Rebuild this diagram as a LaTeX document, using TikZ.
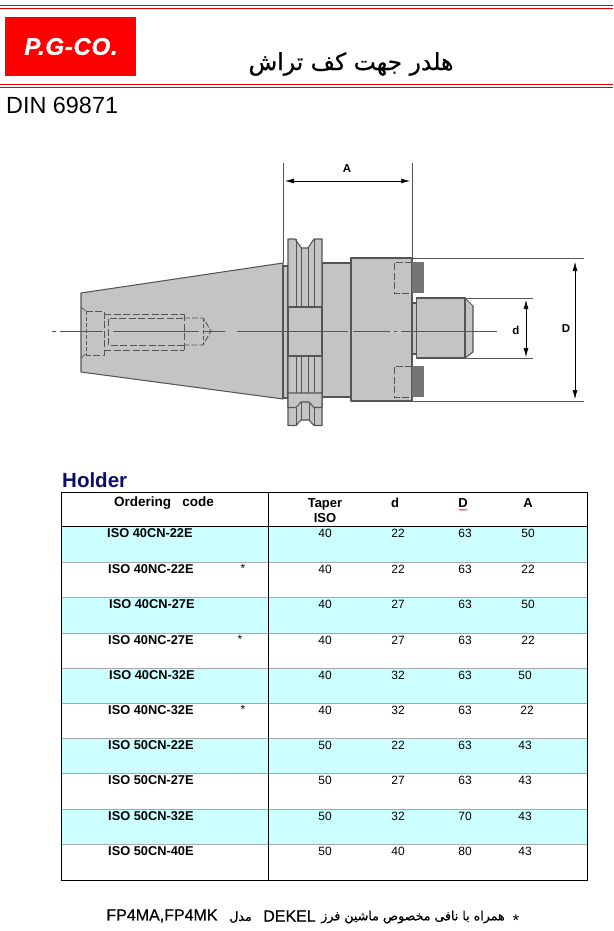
\documentclass[tikz,border=0pt]{standalone}
\usepackage{fontspec}
\usetikzlibrary{arrows.meta}
\setmainfont{Liberation Sans}
\newfontfamily\arabictitle[Script=Arabic,FakeBold=0.6]{DejaVu Sans}
\newfontfamily\arabicnote[Script=Arabic,FakeBold=0.5]{DejaVu Sans}
\newfontfamily\logofont[LetterSpace=3,BoldItalicFont={Liberation Sans Bold Italic},BoldItalicFeatures={FakeBold=1}]{Liberation Sans}
\newfontfamily\notelatin[FakeBold=0.3]{Liberation Sans}
\TeXXeTstate=1
\definecolor{bodygray}{HTML}{C4C4C4}
\definecolor{keygray}{HTML}{747474}
\definecolor{edgegray}{HTML}{555555}
\definecolor{rowcyan}{HTML}{CCFFFF}
\definecolor{rulegray}{HTML}{A8A8A8}
\definecolor{holderblue}{HTML}{0B0B70}
\definecolor{logored}{HTML}{FF0000}
\tikzset{
  part/.style={fill=bodygray,draw=edgegray,line width=1.05pt,line join=round},
  keyblock/.style={fill=keygray,draw=none},
  edge/.style={draw=edgegray,line width=1pt},
  hidden/.style={draw=edgegray,line width=0.9pt,dash pattern=on 7pt off 2.5pt},
  axis/.style={draw=edgegray,line width=0.8pt},
  extline/.style={draw=edgegray,line width=0.9pt},
  dimline/.style={draw=black,line width=0.6pt,{Latex[length=9pt,width=5pt]}-{Latex[length=9pt,width=5pt]}},
  dimlabel/.style={font=\fontsize{11.5}{13}\selectfont\bfseries,inner sep=0pt},
  redrule/.style={draw=logored!90!black,line width=1pt},
  hdr/.style={font=\fontsize{13}{14}\selectfont\bfseries,inner sep=0pt,text=black},
  code/.style={font=\fontsize{12.8}{14}\selectfont\bfseries,inner sep=0pt,anchor=west},
  val/.style={font=\fontsize{12}{13}\selectfont,inner sep=0pt},
  star/.style={font=\fontsize{12}{14}\selectfont,inner sep=0pt},
}
\begin{document}
\begin{tikzpicture}[x=1pt,y=-1pt]
\useasboundingbox (0,0) rectangle (613,931);
% header
\draw[redrule] (0,5.7) -- (613,5.7) (0,8.5) -- (613,8.5) (0,84.5) -- (613,84.5) (0,87.5) -- (613,87.5);
\node[fill=logored,minimum width=131pt,minimum height=59pt,inner sep=0pt] (logo) at (70.5,46.5) {};
\node[text=white,inner sep=0pt,font=\logofont\fontsize{24}{26}\selectfont\bfseries\itshape] (logotext) at (71,46.5) {P.G-CO.};
\node[inner sep=0pt,font=\arabictitle\fontsize{23.5}{26}\selectfont] (title) at (351,64) {\beginR هلدر جهت کف تراش\endR};
\node[inner sep=0pt,anchor=west,font=\fontsize{23.4}{26}\selectfont] (din) at (6,105) {DIN 69871};

% drawing: fills
\draw[part] (81,293) -- (283,263) -- (283,399) -- (81,372) -- cycle;
\draw[part] (283,266) rectangle (288,398);
\draw[part] (322,263) rectangle (351,397);
\draw[part] (288,239) -- (295,239) -- (301.5,248) -- (308,248) -- (314,239) -- (322,239) -- (322,425.5) -- (314,425.5) -- (309,420) -- (301,420) -- (296,425.5) -- (288,425.5) -- cycle;
\draw[part] (288,307) rectangle (322,356);
\draw[part] (288,393) -- (322,393) -- (322,407.5) -- (314,407.5) -- (309,402) -- (301,402) -- (296,407.5) -- (288,407.5) -- cycle;
\draw[edge] (296,239) -- (296,307) (301.5,248) -- (301.5,307) (308,248) -- (308,307) (314,240) -- (314,307);
\draw[edge] (296,356) -- (296,393) (301.5,356) -- (301.5,393) (308,356) -- (308,393) (314,356) -- (314,393);
\draw[edge] (296,407.5) -- (296,425.5) (301,402) -- (301,420) (309,402) -- (309,420) (314,407.5) -- (314,425.5);
\draw[part] (351,258) rectangle (412,401);
\node[keyblock,minimum width=12pt,minimum height=31pt,inner sep=0pt] (keytop) at (418,277.5) {};
\node[keyblock,minimum width=12pt,minimum height=31pt,inner sep=0pt] (keybot) at (418,381.5) {};
\draw[hidden] (412,262) -- (394,262) -- (394,293) -- (412,293);
\draw[hidden] (412,366) -- (394,366) -- (394,397) -- (412,397);
\draw[part] (412,303) rectangle (416.5,354);
\draw[part] (465,298) -- (473,306) -- (473,352) -- (465,358) -- cycle;
\draw[part] (416.5,298) rectangle (465,358);

% hidden detail in the taper
\draw[edge,line width=0.7pt] (81,307) -- (85.5,311) (81,358) -- (85.5,354);
\draw[hidden] (85.5,311) -- (104,311) -- (104,355) -- (85.5,355);
\draw[hidden,dash pattern=on 4pt off 2pt] (86,311) -- (86,355);
\draw[hidden] (104,314) -- (184,314) (104,350) -- (184,350) (184,314) -- (184,350);
\draw[hidden] (184,345) -- (108,345) -- (108,318) -- (184,318);
\draw[hidden,dash pattern=on 6pt off 2pt] (184,318) -- (203,318) -- (211,331) -- (203,345) -- (184,345);
\draw[hidden,dash pattern=on 4pt off 2pt] (203,318) -- (203,345);

% axis
\draw[axis] (52,331) -- (56,331) (60,331) -- (103,331) (113,331) -- (199,331) (203,331) -- (225,331)
  (237,331) -- (348,331) (353,331) -- (390,331) (394,331) -- (397,331) (401,331) -- (497,331);

% dimensions
\coordinate (aL) at (283,163); \coordinate (aLb) at (283,263);
\coordinate (aR) at (412,163); \coordinate (aRb) at (412,258);
\coordinate (dT1) at (412,258); \coordinate (dT2) at (584,258);
\coordinate (dB1) at (412,401); \coordinate (dB2) at (584,401);
\coordinate (sT1) at (465,298); \coordinate (sT2) at (533,298);
\coordinate (sB1) at (465,358); \coordinate (sB2) at (533,358);
\draw[extline] (aL) -- (aLb); \draw[extline] (aR) -- (aRb);
\draw[extline] (dT1) -- (dT2); \draw[extline] (dB1) -- (dB2);
\draw[extline] (sT1) -- (sT2); \draw[extline] (sB1) -- (sB2);
\coordinate (A1) at (285,181); \coordinate (A2) at (410,181);
\coordinate (D1) at (575,262); \coordinate (D2) at (575,399);
\coordinate (d1) at (526,300); \coordinate (d2) at (526,357);
\draw[dimline] (A1) -- (A2); \draw[dimline] (D1) -- (D2); \draw[dimline] (d1) -- (d2);
\node[dimlabel] (lblA) at (347,169) {A};
\node[dimlabel] (lblD) at (566,329) {D};
\node[dimlabel] (lbld) at (516,330) {d};

% table
\node[inner sep=0pt,anchor=west,text=holderblue,font=\fontsize{20.5}{22}\selectfont\bfseries] (holder) at (62,480) {Holder};
\fill[rowcyan] (61.5,526.3) rectangle (587.7,562.3);
\fill[rowcyan] (61.5,597.3) rectangle (587.7,633);
\fill[rowcyan] (61.5,668) rectangle (587.7,703);
\fill[rowcyan] (61.5,738) rectangle (587.7,773);
\fill[rowcyan] (61.5,809) rectangle (587.7,844);
\foreach \yy in {562.3,597.3,633,668,703,738,773,809,844}
  \draw[rulegray,line width=0.8pt] (61.5,\yy) -- (587.7,\yy);
\draw[black,line width=0.9pt] (61.5,526.3) -- (587.7,526.3);
\draw[black,line width=0.9pt] (268.3,492.7) -- (268.3,880);
\draw[black,line width=0.9pt] (61.5,492.7) rectangle (587.7,880);
\node[hdr,font=\fontsize{13.5}{15}\selectfont\bfseries] (hOrder) at (164,503) {Ordering\ \ \ code};
\node[hdr] (hTaper) at (325,504) {Taper};
\node[hdr] (hIso) at (325,518) {ISO};
\node[hdr] (hd) at (395,503) {d};
\node[hdr] (hD) at (463,503) {D};
\node[hdr] (hA) at (528,503) {A};
\draw[red,line width=0.4pt] (459,510) -- (460,509) -- (461,510.5) -- (462,509) -- (463,510.5) -- (464,509) -- (465,510.5) -- (466,509.5) -- (468,510);
\foreach \n/\cx/\yy/\txt in {
 1/107/533.5/ISO 40CN-22E, 2/108/569.5/ISO 40NC-22E, 3/109/604.5/ISO 40CN-27E,
 4/108/640.5/ISO 40NC-27E, 5/109/675.5/ISO 40CN-32E, 6/108/710.5/ISO 40NC-32E,
 7/108/745.5/ISO 50CN-22E, 8/108/780.5/ISO 50CN-27E, 9/108/816/ISO 50CN-32E,
 10/108/851/ISO 50CN-40E}
  \node[code] (code\n) at (\cx,\yy) {\txt};
\node[star] (s1) at (243,568) {*};
\node[star] (s2) at (240,639) {*};
\node[star] (s3) at (243,709) {*};
\foreach \n/\yy/\ta/\db/\dc/\ab/\ax in {
 1/533.5/40/22/63/50/528, 2/569.5/40/22/63/22/528, 3/604.5/40/27/63/50/528,
 4/640.5/40/27/63/22/528, 5/675.5/40/32/63/50/525, 6/710.5/40/32/63/22/527,
 7/745.5/50/22/63/43/525, 8/780.5/50/27/63/43/525, 9/816/50/32/70/43/525, 10/851/50/40/80/43/525}{
  \node[val] (t\n) at (325,\yy) {\ta};
  \node[val] (d\n) at (398,\yy) {\db};
  \node[val] (D\n) at (465,\yy) {\dc};
  \node[val] (A\n) at (\ax,\yy) {\ab};
}

% footnote
\node[inner sep=0pt,font=\fontsize{17}{19}\selectfont] (fstar) at (516,921) {*};
\node[inner sep=0pt,font=\arabicnote\fontsize{12.6}{15}\selectfont] (fa) at (413,917) {\beginR همراه با نافی مخصوص ماشین فرز\endR};
\node[inner sep=0pt,font=\notelatin\fontsize{16}{18}\selectfont] (fb) at (289.5,916) {DEKEL};
\node[inner sep=0pt,font=\arabicnote\fontsize{12.6}{15}\selectfont] (fc) at (240.5,917) {\beginR مدل\endR};
\node[inner sep=0pt,font=\notelatin\fontsize{16}{18}\selectfont] (fd) at (162,916) {FP4MA,FP4MK};
\end{tikzpicture}
\end{document}
